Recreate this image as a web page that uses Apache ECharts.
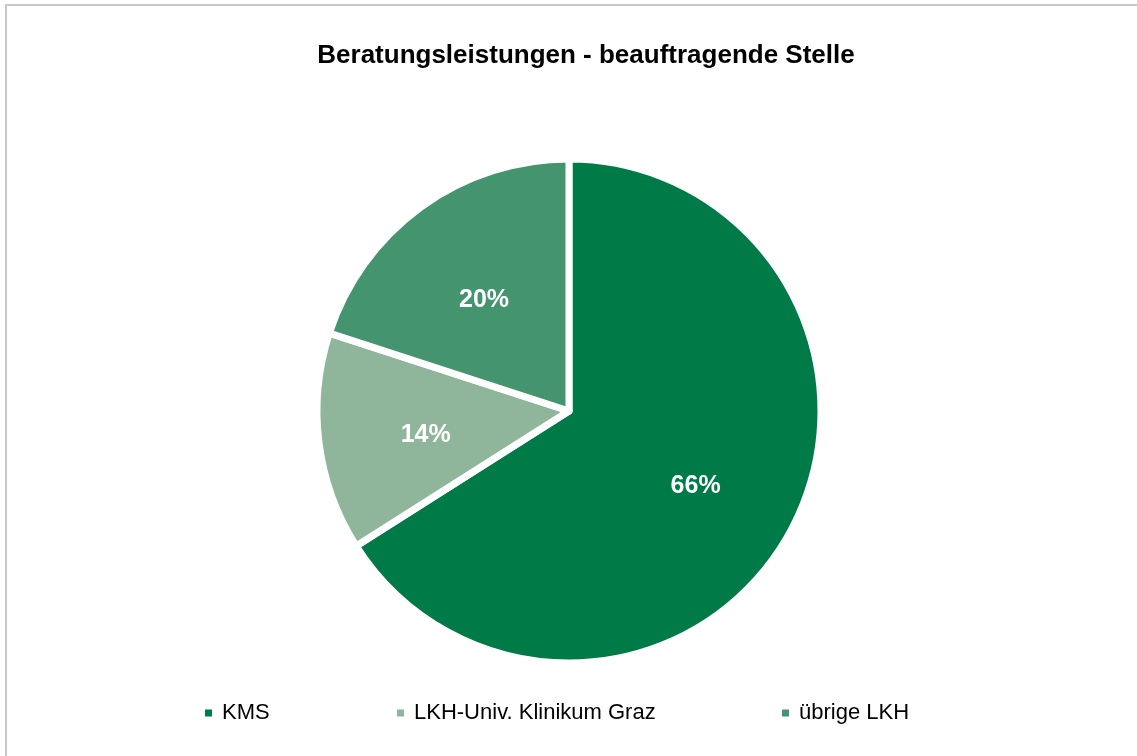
<!DOCTYPE html>
<html>
<head>
<meta charset="utf-8">
<script src="https://cdn.jsdelivr.net/npm/echarts@6/dist/echarts.min.js"></script>
<style>
html,body{margin:0;padding:0;background:#fff;}
#chart{width:1137px;height:756px;}
</style>
</head>
<body>
<div id="chart"></div>
<script>
const titleText = 'Beratungsleistungen - beauftragende Stelle';
const categories = ['KMS', 'LKH-Univ. Klinikum Graz', 'übrige LKH'];
const values = [66, 14, 20];
const colors = ['#007a47', '#8fb69b', '#43946f'];

const FONT = "'Liberation Sans Narrow', 'Arial Narrow', 'Liberation Sans', Arial, sans-serif";
const CX = 569, CY = 411;

const chart = echarts.init(document.getElementById('chart'), null, {renderer: 'canvas'});

const legendLefts = [205, 397, 782];

const option = {
  backgroundColor: '#ffffff',
  animation: false,
  title: {
    text: titleText,
    left: 581,
    textAlign: 'center',
    top: 38,
    textStyle: {fontFamily: FONT, fontWeight: 'bold', fontSize: 26, color: '#000'}
  },
  graphic: [{
    type: 'rect',
    shape: {x: 6, y: 5, width: 1300, height: 900},
    style: {fill: 'none', stroke: '#c8c8c8', lineWidth: 2},
    silent: true
  }],
  legend: categories.map((c, i) => ({
    data: [c],
    left: legendLefts[i],
    top: 702,
    padding: 0,
    orient: 'horizontal',
    icon: 'rect',
    itemWidth: 7,
    itemHeight: 7,
    itemStyle: {borderWidth: 0},
    selectedMode: false,
    textStyle: {fontFamily: FONT, fontSize: 22, color: '#000', padding: [0, 0, 0, 5]}
  })),
  series: [{
    type: 'pie',
    center: [CX, CY],
    radius: [0, 252],
    startAngle: 90,
    clockwise: true,
    avoidLabelOverlap: false,
    data: categories.map((c, i) => ({name: c, value: values[i], itemStyle: {color: colors[i]}})),
    itemStyle: {borderColor: '#ffffff', borderWidth: 7},
    label: {
      show: true,
      position: 'inside',
      formatter: p => Math.round(p.percent) + '%',
      fontFamily: FONT,
      fontWeight: 'bold',
      fontSize: 25,
      color: '#ffffff'
    },
    labelLayout: function (params) {
      const r = params.labelRect;
      const lx = r.x + r.width / 2, ly = r.y + r.height / 2;
      return {dx: (lx - CX) * 0.12, dy: (ly - CY) * 0.12 + 6};
    },
    labelLine: {show: false},
    emphasis: {disabled: true}
  }]
};
chart.setOption(option);
</script>
</body>
</html>
